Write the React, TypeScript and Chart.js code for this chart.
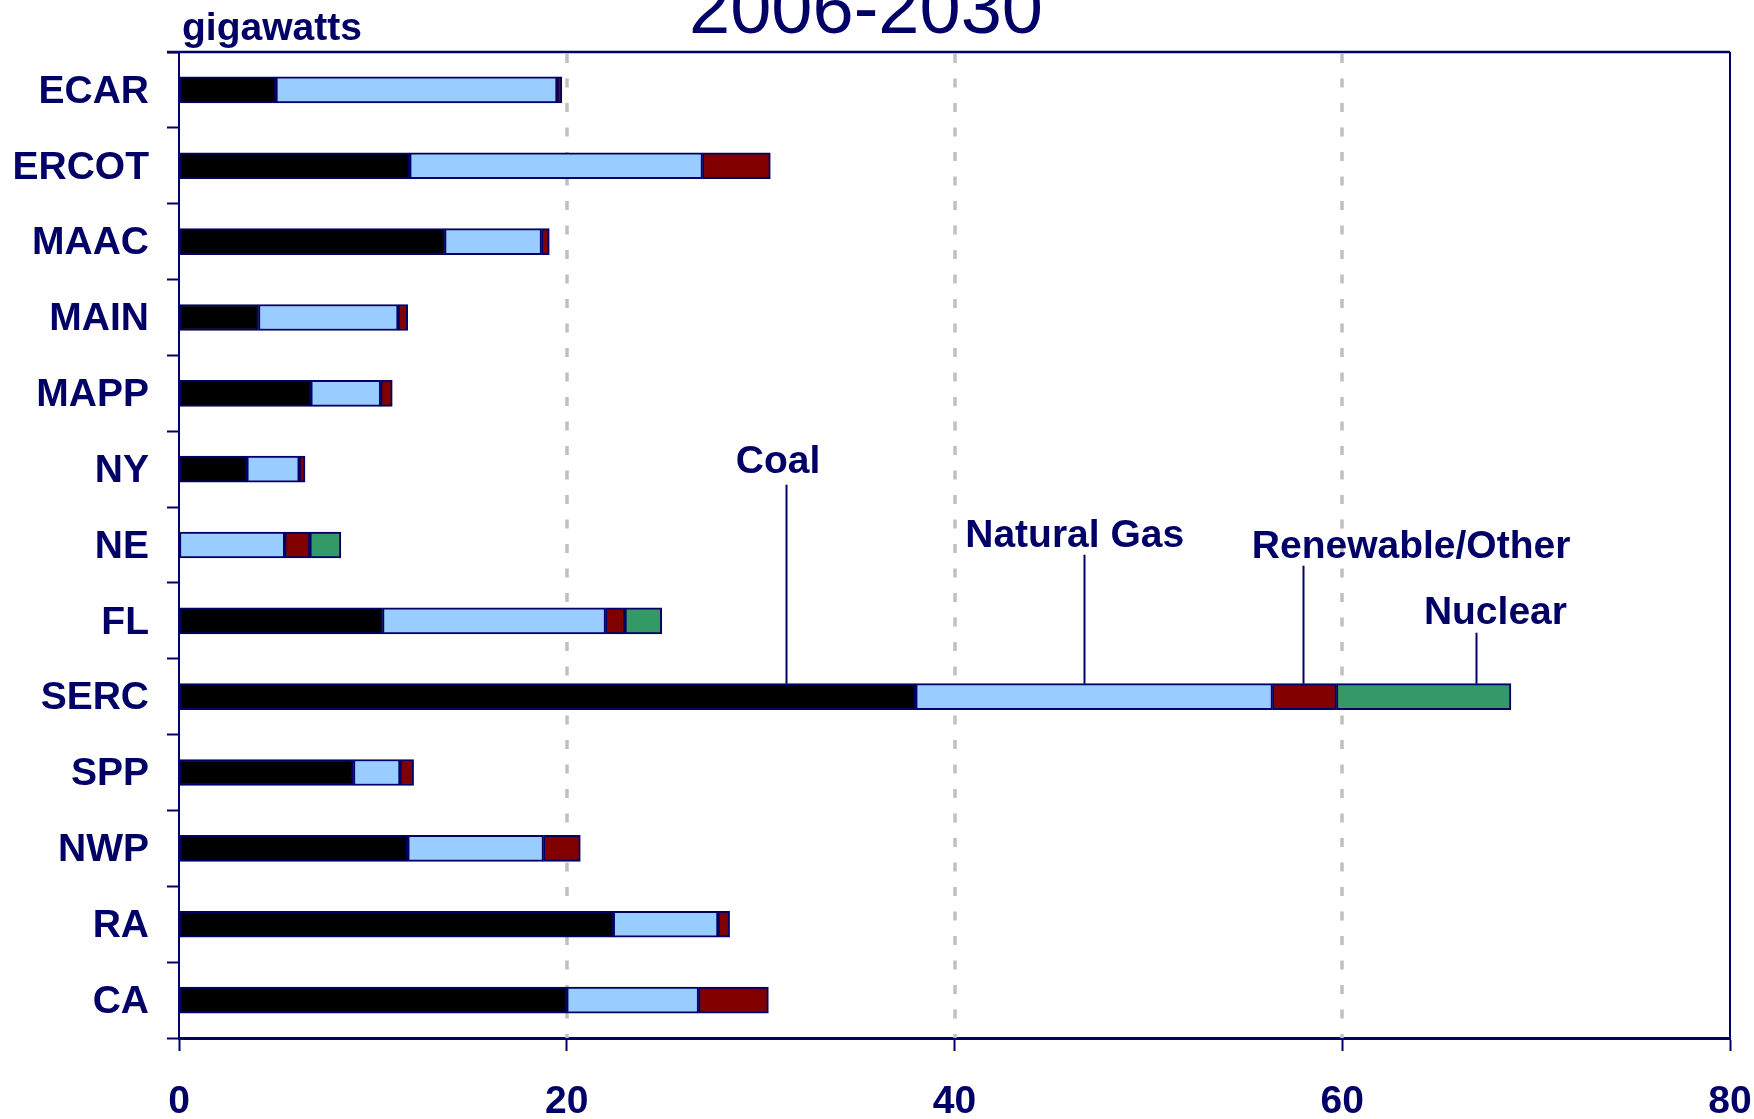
import React, { useEffect, useRef } from 'react';
import { Chart, registerables } from 'chart.js';

Chart.register(...registerables);

// ---- data (gigawatts) ----
const regions = ['ECAR', 'ERCOT', 'MAAC', 'MAIN', 'MAPP', 'NY', 'NE', 'FL', 'SERC', 'SPP', 'NWP', 'RA', 'CA'];
const coal = [5.0, 11.9, 13.7, 4.1, 6.8, 3.5, null, 10.5, 38.0, 9.0, 11.8, 22.4, 20.0];
const naturalGas = [14.5, 15.1, 5.0, 7.2, 3.6, 2.7, 5.45, 11.5, 18.4, 2.4, 7.0, 5.4, 6.8];
const renewableOther = [0.25, 3.5, 0.4, 0.5, 0.6, 0.3, 1.3, 1.0, 3.3, 0.7, 1.9, 0.6, 3.6];
const nuclear = [null, null, null, null, null, null, 1.6, 1.9, 9.0, null, null, null, null];
const xTicks = [0, 20, 40, 60, 80];
const gridValues = [20, 40, 60];

// ---- annotation layout (label, value under the leader line, label centre value) ----
const annotationTarget = 'SERC';
const annotations = [
  { text: 'Coal', lineAt: 31.3, textAt: 30.9, textRise: 225, lineRise: 199 },
  { text: 'Natural Gas', lineAt: 46.7, textAt: 46.2, textRise: 151, lineRise: 129 },
  { text: 'Renewable/Other', lineAt: 58.0, textAt: 63.55, textRise: 140, lineRise: 118 },
  { text: 'Nuclear', lineAt: 66.9, textAt: 67.9, textRise: 74, lineRise: 51 },
];

const NAVY = '#000066';
const FONT = "'Liberation Sans', Arial, Helvetica, sans-serif";
const BAR_THICK = 26;

const decorPlugin = {
  id: 'decor',
  beforeDatasetsDraw(chart: any) {
    const { ctx, chartArea, scales } = chart;
    const x = scales.x;
    ctx.save();
    ctx.strokeStyle = '#C0C0C0';
    ctx.lineWidth = 3.5;
    ctx.setLineDash([9, 15.5]);
    gridValues.forEach((v) => {
      const px = Math.round(x.getPixelForValue(v));
      ctx.beginPath();
      ctx.moveTo(px, chartArea.top + 2);
      ctx.lineTo(px, chartArea.bottom);
      ctx.stroke();
    });
    ctx.restore();
  },
  afterDraw(chart: any) {
    const { ctx, chartArea, scales } = chart;
    const x = scales.x;
    const y = scales.y;
    ctx.save();
    // frame top + right
    ctx.strokeStyle = NAVY;
    ctx.lineWidth = 2.5;
    ctx.beginPath();
    ctx.moveTo(chartArea.left - 12, chartArea.top);
    ctx.lineTo(chartArea.right, chartArea.top);
    ctx.stroke();
    ctx.lineWidth = 2;
    ctx.beginPath();
    ctx.moveTo(chartArea.right, chartArea.top);
    ctx.lineTo(chartArea.right, chartArea.bottom);
    ctx.stroke();

    // title (partially cut at top)
    ctx.fillStyle = NAVY;
    ctx.font = `74px ${FONT}`;
    ctx.textAlign = 'center';
    ctx.textBaseline = 'alphabetic';
    ctx.fillText('2006-2030', 866, 33);

    // unit label
    ctx.font = `bold 39px ${FONT}`;
    ctx.textAlign = 'left';
    ctx.fillText('gigawatts', chartArea.left + 3, 40);

    // annotations
    const idx = regions.indexOf(annotationTarget);
    const barTop = y.getPixelForValue(idx) - BAR_THICK / 2;
    ctx.strokeStyle = NAVY;
    ctx.lineWidth = 2;
    ctx.textAlign = 'center';
    annotations.forEach((a) => {
      const lx = Math.round(x.getPixelForValue(a.lineAt)) + 0.5;
      ctx.beginPath();
      ctx.moveTo(lx, barTop - a.lineRise);
      ctx.lineTo(lx, barTop);
      ctx.stroke();
      ctx.fillText(a.text, x.getPixelForValue(a.textAt), barTop - a.textRise + 14);
    });
    ctx.restore();
  },
};

export default function App() {
  const ref = useRef<HTMLCanvasElement | null>(null);

  useEffect(() => {
    document.body.style.margin = '0';
    if (!ref.current) return;
    const mk = (label: string, data: any[], color: string) => ({
      label,
      data,
      backgroundColor: color,
      borderColor: NAVY,
      borderWidth: 2,
      borderSkipped: false,
      barThickness: BAR_THICK,
    });
    const chart = new Chart(ref.current, {
      type: 'bar',
      data: {
        labels: regions,
        datasets: [
          mk('Coal', coal, '#000000'),
          mk('Natural Gas', naturalGas, '#99CCFF'),
          mk('Renewable/Other', renewableOther, '#800000'),
          mk('Nuclear', nuclear, '#339966'),
        ],
      },
      options: {
        indexAxis: 'y',
        animation: false,
        responsive: false,
        devicePixelRatio: 1,
        layout: { padding: { top: 52, right: 24, left: 0, bottom: 0 } },
        plugins: {
          legend: { display: false },
          tooltip: { enabled: false },
          title: { display: false },
        },
        scales: {
          x: {
            type: 'linear',
            stacked: true,
            min: 0,
            max: 80,
            afterBuildTicks: (s: any) => {
              s.ticks = xTicks.map((v) => ({ value: v }));
            },
            afterFit: (s: any) => {
              s.height = 81;
              s.paddingLeft = 0;
              s.paddingRight = 0;
            },
            grid: {
              drawOnChartArea: false,
              drawTicks: true,
              tickLength: 13,
              tickColor: NAVY,
              tickWidth: 2,
              color: NAVY,
            },
            border: { display: true, color: NAVY, width: 3 },
            ticks: {
              color: NAVY,
              padding: 28,
              font: { family: FONT, size: 39, weight: 'bold' },
              maxRotation: 0,
              autoSkip: false,
            },
          },
          y: {
            stacked: true,
            afterFit: (s: any) => {
              s.width = 179;
              s.paddingTop = 0;
              s.paddingBottom = 0;
            },
            grid: {
              offset: true,
              drawOnChartArea: false,
              drawTicks: true,
              tickLength: 12,
              tickColor: NAVY,
              tickWidth: 2,
              color: NAVY,
            },
            border: { display: true, color: NAVY, width: 2 },
            ticks: {
              color: NAVY,
              padding: 18,
              labelOffset: 2,
              font: { family: FONT, size: 39, weight: 'bold' },
              autoSkip: false,
            },
          },
        },
      },
      plugins: [decorPlugin],
    } as any);
    return () => chart.destroy();
  }, []);

  return (
    <div style={{ width: 1754, height: 1119, background: '#ffffff' }}>
      <canvas ref={ref} width={1754} height={1119} style={{ display: 'block' }} />
    </div>
  );
}
